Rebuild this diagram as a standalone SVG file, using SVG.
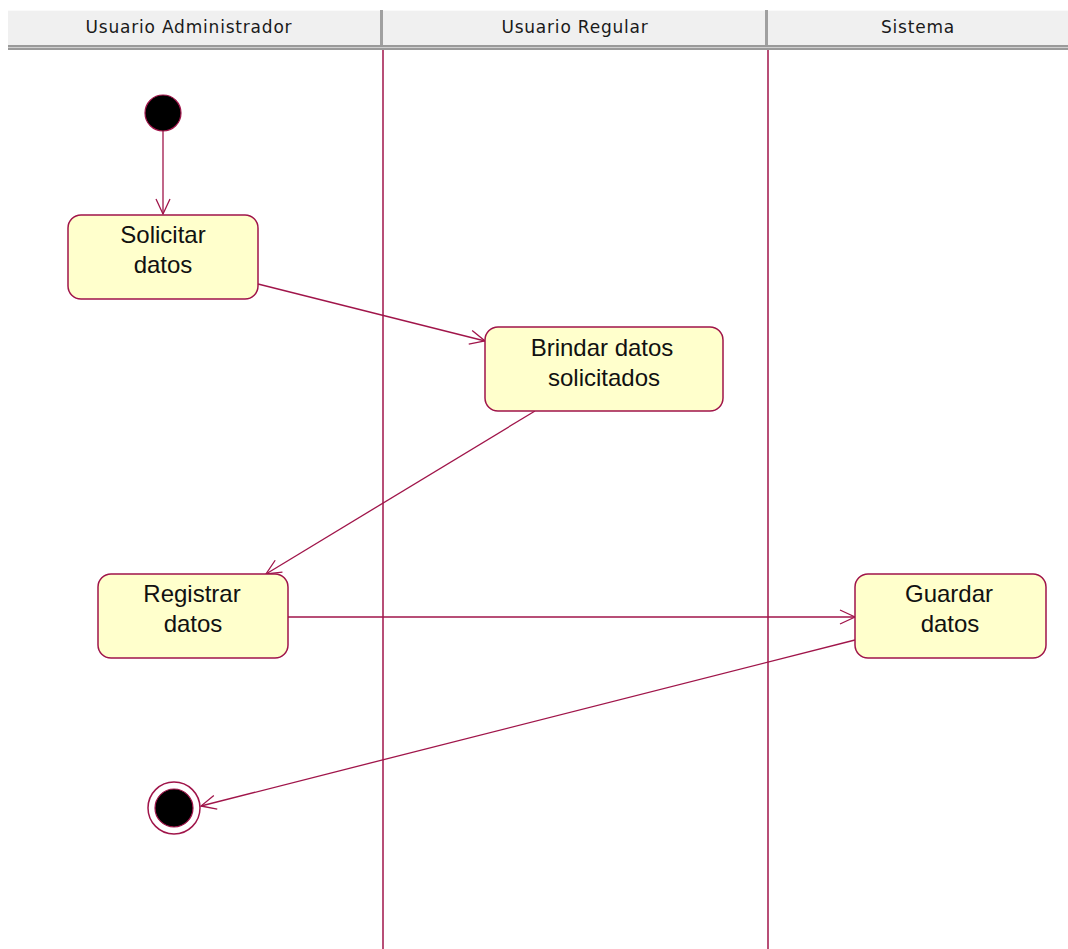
<svg xmlns="http://www.w3.org/2000/svg" width="1068" height="949" viewBox="0 0 1068 949">
<style>
.hdr{fill:#f0f0f0;stroke:none}
.hdrt{font-family:"DejaVu Sans",Verdana,sans-serif;font-size:17px;letter-spacing:0.8px;fill:#1a1a1a;text-anchor:middle}
.lane{stroke:#a0154a;stroke-width:1.5;fill:none}
.act{fill:#ffffcc;stroke:#a0154a;stroke-width:1.5}
.lbl{font-family:"Liberation Sans",Arial,sans-serif;font-size:24px;fill:#111;text-anchor:middle}
.con{stroke:#a0154a;stroke-width:1.3;fill:none}
</style>
<defs>
<marker id="open" markerWidth="20" markerHeight="20" viewBox="-16 -10 18 20" refX="0" refY="0" orient="auto" markerUnits="userSpaceOnUse">
<path d="M-15,-7 L0,0 L-15,7" fill="none" stroke="#a0154a" stroke-width="1.3"/>
</marker>
</defs>
<rect x="0" y="0" width="1068" height="949" fill="#ffffff"/>
<g id="header">
<rect class="hdr" x="8" y="10" width="1060" height="35"/>
<line x1="8" y1="10.5" x2="1068" y2="10.5" stroke="#fafafa" stroke-width="1"/>
<rect x="8" y="45" width="1060" height="5" fill="#9a9a9a"/>
<line x1="8" y1="47.5" x2="1068" y2="47.5" stroke="#cfcfcf" stroke-width="1"/>
<rect x="380" y="10" width="3" height="35" fill="#a0a0a0"/>
<rect x="765" y="10" width="3" height="35" fill="#a0a0a0"/>
<text class="hdrt" x="189" y="33">Usuario Administrador</text>
<text class="hdrt" x="575" y="33">Usuario Regular</text>
<text class="hdrt" x="918" y="33">Sistema</text>
</g>
<g id="lanes">
<line class="lane" x1="383" y1="50" x2="383" y2="949"/>
<line class="lane" x1="768" y1="50" x2="768" y2="949"/>
</g>
<g id="connectors">
<line class="con" x1="163" y1="131" x2="163" y2="214" marker-end="url(#open)"/>
<line class="con" x1="258" y1="284" x2="485" y2="341" marker-end="url(#open)"/>
<line class="con" x1="535" y1="411" x2="266" y2="574" marker-end="url(#open)"/>
<line class="con" x1="288" y1="617" x2="855" y2="617" marker-end="url(#open)"/>
<line class="con" x1="855" y1="640" x2="201" y2="806" marker-end="url(#open)"/>
</g>
<g id="start">
<circle cx="163" cy="113" r="18" fill="#000" stroke="#a0154a" stroke-width="1.2"/>
</g>
<g id="solicitar">
<rect class="act" x="68" y="215" width="190" height="84" rx="13"/>
<text class="lbl" x="163" y="243">Solicitar</text>
<text class="lbl" x="163" y="273">datos</text>
</g>
<g id="brindar">
<rect class="act" x="485" y="327" width="238" height="84" rx="13"/>
<text class="lbl" x="602" y="356">Brindar datos</text>
<text class="lbl" x="604" y="386">solicitados</text>
</g>
<g id="registrar">
<rect class="act" x="98" y="574" width="190" height="84" rx="13"/>
<text class="lbl" x="192" y="602">Registrar</text>
<text class="lbl" x="193" y="632">datos</text>
</g>
<g id="guardar">
<rect class="act" x="855" y="574" width="191" height="84" rx="13"/>
<text class="lbl" x="949" y="602">Guardar</text>
<text class="lbl" x="950" y="632">datos</text>
</g>
<g id="end">
<circle cx="174" cy="808" r="26" fill="#fff" stroke="#a0154a" stroke-width="1.5"/>
<circle cx="174" cy="808" r="19" fill="#000" stroke="#a0154a" stroke-width="1.2"/>
</g>
</svg>
